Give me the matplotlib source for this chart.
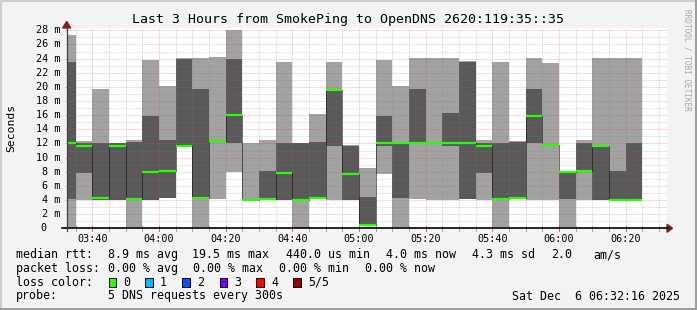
import matplotlib
matplotlib.use("Agg")
import matplotlib.pyplot as plt
from matplotlib.lines import Line2D
from matplotlib.patches import Rectangle, Polygon

# ---------------- data ----------------
times = ["03:30", "03:35", "03:40", "03:45", "03:50", "03:55", "04:00", "04:05", "04:10",
         "04:15", "04:20", "04:25", "04:30", "04:35", "04:40", "04:45", "04:50", "04:55",
         "05:00", "05:05", "05:10", "05:15", "05:20", "05:25", "05:30", "05:35", "05:40",
         "05:45", "05:50", "05:55", "06:00", "06:05", "06:10", "06:15", "06:20"]
ping1 = [0.2, 3.95, 3.95, 3.95, 0.2, 3.95, 4.3, 11.6, 0.2, 4.2, 8.0, 3.95, 4.0, 3.95, 0.05, 4.2, 3.95, 3.95,
         0.4, 7.75, 0.2, 4.1, 4.0, 4.0, 4.15, 3.95, 0.2, 4.25, 4.0, 3.95, 0.2, 3.95, 4.0, 4.0, 4.0]
ping2 = [4.1, 7.85, 4.0, 4.0, 4.0, 4.0, 4.3, 11.6, 4.2, 12.25, 12.0, 4.0, 4.05, 4.0, 4.0, 4.25, 11.7, 3.97,
         0.42, 11.7, 4.3, 12.05, 12.1, 11.7, 4.2, 7.85, 4.0, 4.3, 12.1, 11.8, 4.15, 7.9, 4.02, 4.02, 4.02]
median = [12.1, 11.65, 4.3, 11.65, 4.2, 8.0, 8.15, 11.65, 4.35, 12.3, 16.05, 4.05, 4.2, 7.85, 4.05, 4.35, 19.5, 7.75,
          0.44, 12.1, 12.1, 12.1, 12.12, 12.1, 12.1, 11.7, 4.1, 4.35, 15.95, 11.85, 8.0, 8.15, 11.7, 4.05, 4.04]
ping4 = [23.5, 12.0, 12.1, 12.0, 12.15, 15.9, 12.5, 24.0, 19.75, 12.35, 24.0, 4.1, 8.15, 12.1, 12.1, 12.25, 19.75, 11.7,
         4.45, 15.9, 12.25, 19.75, 12.15, 16.3, 23.55, 12.1, 12.1, 12.25, 19.75, 11.9, 8.02, 12.1, 11.72, 8.15, 12.1]
ping5 = [27.35, 12.35, 19.75, 12.1, 12.5, 23.8, 20.1, 24.05, 24.05, 24.25, 28.1, 12.1, 12.5, 23.55, 12.12, 16.2, 23.55, 11.72,
         8.5, 23.8, 20.1, 24.15, 24.15, 24.15, 23.6, 12.5, 23.55, 12.35, 24.15, 23.45, 8.04, 12.5, 24.15, 24.15, 24.15]

ytick_values = [0, 2, 4, 6, 8, 10, 12, 14, 16, 18, 20, 22, 24, 26, 28]
xtick_labels = ["03:40", "04:00", "04:20", "04:40", "05:00", "05:20", "05:40", "06:00", "06:20"]

title = "Last 3 Hours from SmokePing to OpenDNS 2620:119:35::35"
legend_rows = [
    [("median rtt:", 15.6), ("8.9 ms avg", 107.6), ("19.5 ms max", 192.4), ("440.0 us min", 285.8),
     ("4.0 ms now", 385.8), ("4.3 ms sd", 472.4), ("2.0", 551.0), ("am/s", 593.0)],
    [("packet loss:", 15.6), ("0.00 % avg", 107.6), ("0.00 % max", 193.3), ("0.00 % min", 279.0),
     ("0.00 % now", 365.3)],
    [("loss color:", 15.6)],
    [("probe:", 15.6), ("5 DNS requests every 300s", 107.6)],
]
loss_labels = ["0", "1", "2", "3", "4", "5/5"]
loss_colors = ["#26ff00", "#00b8ff", "#0059ff", "#7e00ff", "#ff0000", "#a10000"]
timestamp = "Sat Dec  6 06:32:16 2025"

# ---------------- helpers ----------------
W, H = 697, 310
MONO = "DejaVu Sans Mono"


def tmin(s):
    h, m = s.split(":")
    return (int(h) - 3) * 60 + int(m) - 30   # minutes since 03:30


fig = plt.figure(figsize=(W / 100, H / 100), dpi=100)
fig.patch.set_facecolor("#f3f3f3")


def P(x, y):
    return (x / W, 1 - y / H)


# plot area in pixels
L, R, T, B = 66.7, 666.7, 28.0, 228.3
ax = fig.add_axes([L / W, 1 - B / H, (R - L) / W, (B - T) / H])
ax.set_facecolor("white")
x0 = 2 + 16 / 60
ax.set_xlim(x0, x0 + 180)
pxms = 7.07
ax.set_ylim(0, (B - T) / pxms)
for s in ax.spines.values():
    s.set_visible(False)
ax.set_xticks([])
ax.set_yticks([])

starts = [tmin(t) for t in times]
light = "#a2a2a2"
dark = "#595959"
ax.bar(starts, [b - a for a, b in zip(ping1, ping5)], bottom=ping1, width=5, align="edge",
       color=light, linewidth=0, zorder=1)
ax.bar(starts, [b - a for a, b in zip(ping2, ping4)], bottom=ping2, width=5, align="edge",
       color=dark, linewidth=0, zorder=1.1)

# grid on top of the smoke
minor_c = (0.5, 0.5, 0.5, 0.32)
major_c = (0.88, 0.3, 0.3, 0.38)
dot = (0, (1, 1))
for v in range(1, 29):
    ln = ax.axhline(v, color=major_c if v % 2 == 0 else minor_c, lw=0.72, ls=dot, zorder=2)
    ln.set_snap(True)
for m in range(5, 185, 5):
    ln = ax.axvline(m, color=major_c if (m - 10) % 20 == 0 else minor_c, lw=0.72, ls=dot, zorder=2)
    ln.set_snap(True)

# median: stepped thin dotted line + green segments
edges = starts + [starts[-1] + 5]
ax.step(edges, median + [median[-1]], where="post", color="black", lw=0.72, ls=dot, zorder=3)
for s, m in zip(starts, median):
    ax.plot([s, s + 5], [m, m], color="#26ff00", lw=1.6, solid_capstyle="butt", zorder=4)

# y labels
for v in ytick_values:
    ypx = B - v * pxms
    if v == 0:
        fig.text(*P(43.5, ypx), "0", ha="center", va="center", fontsize=7.3, family=MONO)
    else:
        fig.text(*P(60.5, ypx), f"{v} m", ha="right", va="center", fontsize=7.3, family=MONO)
    fig.add_artist(Line2D([65 / W, 69 / W], [1 - ypx / H] * 2, color=minor_c, lw=0.72))

# x labels and ticks
for lab in xtick_labels:
    xm = tmin(lab)
    xpx = L + (xm - x0) * (R - L) / 180
    fig.text(*P(xpx, 238.5), lab, ha="center", va="center", fontsize=7.3, family=MONO)
for m in range(5, 185, 5):
    xpx = L + (m - x0) * (R - L) / 180
    if xpx > R:
        break
    c = (0.9, 0.25, 0.25, 0.8) if (m - 10) % 20 == 0 else (0.55, 0.55, 0.55, 0.7)
    fig.add_artist(Line2D([xpx / W] * 2, [1 - (B - 2) / H, 1 - (B + 3) / H], color=c, lw=0.72))

# axis lines and arrows
fig.add_artist(Line2D([62 / W, 668 / W], [1 - B / H] * 2, color="black", lw=1.2))
fig.add_artist(Line2D([L / W] * 2, [1 - (B + 3) / H, 1 - 25 / H], color="#404040", lw=0.9))
arrow_c = "#8b1a1a"
fig.add_artist(Polygon([P(667, B - 4), P(672.5, B), P(667, B + 4)], closed=True, color=arrow_c,
                       transform=fig.transFigure))
fig.add_artist(Polygon([P(L - 4, 28), P(L, 21.5), P(L + 4, 28)], closed=True, color=arrow_c,
                       transform=fig.transFigure))

# title, unit label, watermark
fig.text(*P(347.5, 19.3), title, ha="center", va="center", fontsize=9.5, family=MONO)
fig.text(*P(11, 128), "Seconds", ha="center", va="center", rotation=90, fontsize=8.2, family=MONO)
fig.text(*P(687.5, 60), "RRDTOOL / TOBI OETIKER", ha="center", va="center", rotation=-90,
         fontsize=5.6, family=MONO, color="#a8a8a8")

# legend
row_y = [254.7, 268.3, 282.3, 296.0]
for row, y in zip(legend_rows, row_y):
    for txt, x in row:
        fig.text(*P(x, y), txt, ha="left", va="center", fontsize=8.4, family=MONO)
sq_x = [108.9, 145.3, 182.2, 219.6, 256.4, 293.3]
for lab, col, x in zip(loss_labels, loss_colors, sq_x):
    fig.add_artist(Rectangle(P(x, 286.5), 7.5 / W, 8.5 / H, facecolor=col, edgecolor="black",
                             lw=0.7, transform=fig.transFigure))
    fig.text(*P(x + 14.7, 282.3), lab, ha="left", va="center", fontsize=8.4, family=MONO)
fig.text(*P(680.5, 296.0), timestamp, ha="right", va="center", fontsize=8.4, family=MONO)

# 3D-ish outer border
fig.add_artist(Line2D([0, 1], [1 - 0.5 / H] * 2, color="#cfcfcf", lw=1.5))
fig.add_artist(Line2D([0.5 / W] * 2, [0, 1], color="#cfcfcf", lw=1.5))
fig.add_artist(Line2D([0, 1], [1.0 / H] * 2, color="#9e9e9e", lw=2.2))
fig.add_artist(Line2D([1 - 1.0 / W] * 2, [0, 1], color="#9e9e9e", lw=2.2))

fig.savefig("out.png", dpi=100, facecolor=fig.get_facecolor())
